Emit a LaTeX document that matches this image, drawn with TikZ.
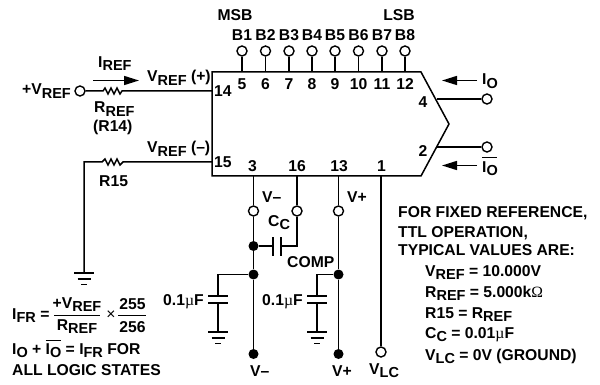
\documentclass[tikz,border=0pt]{standalone}
\usepackage{fontspec}
\setmainfont{Liberation Sans}[BoldFont={Liberation Sans Bold}]
\usetikzlibrary{arrows.meta}
\newcommand{\lbl}[2]{#1\raisebox{-3.5pt}{\fontsize{14.5}{14.5}\selectfont #2}}
\newcommand{\ovl}[1]{\rlap{\rule[13.5pt]{#1}{1pt}}}
\tikzset{
  wire/.style={line width=1.5pt,line join=miter},
  open/.style={circle,draw,line width=1.4pt,fill=white,minimum size=10pt,inner sep=0pt},
  dot/.style={circle,fill=black,minimum size=10pt,inner sep=0pt},
  txt/.style={inner sep=0pt,font=\bfseries\fontsize{15.7}{17}\selectfont,text=black},
  arr/.style={line width=1.5pt,-{Triangle[length=15pt,width=9pt]}},
  plate/.style={line width=1.5pt}
}
\begin{document}
\begin{tikzpicture}[x=1pt,y=-1pt]
\useasboundingbox (0,0) rectangle (600,385);
% IC body
\draw[wire] (212,72) -- (421,72) -- (449,124) -- (421,176) -- (212,176) -- cycle;
\coordinate (body14) at (212,91);
\coordinate (body15) at (212,162);
\coordinate (body4) at (437,99);
\coordinate (body2) at (437,147);
% data pins
\foreach \n/\x/\pin/\b in {a/242/5/B1,b/265.5/6/B2,c/289/7/B3,d/312/8/B4,e/335/9/B5,f/358.5/10/B6,g/382/11/B7,h/405/12/B8}{
  \coordinate (t\n) at (\x,72);
  \node[open] (o\n) at (\x,51) {};
  \draw[wire] (o\n) -- (t\n);
  \node[txt] at (\x,35) {\b};
  \node[txt] at (\x,84) {\pin};
}
\node[txt] at (235,15) {MSB};
\node[txt] at (399,15) {LSB};
% reference in
\node[open] (vr) at (80,91) {};
\draw[wire] (vr) -- (100,91) -- (103,91) -- (105,88) -- (108,94) -- (111,88) -- (114,94) -- (117,88) -- (120,94) -- (122,91) -- (body14);
\draw[wire] (body15) -- (123,162) -- (120,165) -- (117,159) -- (114,165) -- (111,159) -- (108,165) -- (105,159) -- (102,162) -- (84,162) -- (84,273);
\coordinate (gnd1) at (84,273);
\draw[wire] (74,273) -- (94,273) (77.5,279) -- (90.5,279) (81,284.5) -- (87,284.5);
\coordinate (a1s) at (93,80.5); \coordinate (a1e) at (139,80.5);
\draw[arr] (a1s) -- (a1e);
\node[txt,anchor=base west] at (98,67.5) {\lbl{I}{REF}};
\node[txt,anchor=base west] at (147,82) {\lbl{V}{REF} (+)};
\node[txt,anchor=base west] at (22,95) {+\lbl{V}{REF}};
\node[txt,anchor=base west] at (94,113) {\lbl{R}{REF}};
\node[txt,anchor=base west] at (93,132) {(R14)};
\node[txt,anchor=base west] at (147,153) {\lbl{V}{REF} (–)};
\node[txt,anchor=base west] at (99,186) {R15};
\node[txt,anchor=west] at (214,91) {14};
\node[txt,anchor=west] at (214,162) {15};
\node[txt] at (252.5,166) {3};
\node[txt] at (297,166) {16};
\node[txt] at (339,166) {13};
\node[txt] at (381.5,166) {1};
\node[txt] at (423,102) {4};
\node[txt] at (423,151) {2};
% outputs
\node[open] (o4) at (487,99) {};
\node[open] (o2) at (487,147) {};
\draw[wire] (body4) -- (o4);
\draw[wire] (body2) -- (o2);
\coordinate (a2s) at (477,80.5); \coordinate (a2e) at (442,80.5);
\coordinate (a3s) at (477,165.5); \coordinate (a3e) at (442,165.5);
\draw[arr] (a2s) -- (a2e);
\draw[arr] (a3s) -- (a3e);
\node[txt,anchor=base west] at (482,85) {\lbl{I}{O}};
\node[txt,anchor=base west] at (482,172) {\ovl{15pt}\lbl{I}{O}};
% pin 3
\coordinate (p3) at (253.5,176);
\coordinate (p16) at (297,176);
\coordinate (p13) at (338.5,176);
\coordinate (p1) at (381,176);
\node[open] (c3) at (253.5,211) {};
\node[open] (c16) at (297,211) {};
\node[open] (c13) at (338.5,211) {};
\node[dot] (d1) at (253.5,246) {};
\node[dot] (d2) at (253.5,274.5) {};
\node[dot] (d3) at (253.5,354) {};
\node[dot] (d4) at (338.5,274.5) {};
\node[dot] (d5) at (338.5,354) {};
\node[open] (c1) at (381,352) {};
\draw[wire] (p3) -- (c3) -- (d1) -- (d2) -- (d3);
\draw[wire] (p16) -- (c16) -- (297,246) -- (281,246);
\draw[wire] (d1) -- (273,246);
\draw[plate] (273,237) -- (273,256) (281,237) -- (281,256);
\draw[wire] (p13) -- (c13) -- (d4) -- (d5);
\draw[wire] (p1) -- (c1);
\foreach \x/\d in {218/d2,317/d4}{
  \draw[wire] (\d) -- (\x,274.5) -- (\x,296);
  \draw[plate] ({\x-10},296) -- ({\x+10},296) ({\x-10},303) -- ({\x+10},303);
  \draw[wire] (\x,303) -- (\x,332);
  \draw[wire] ({\x-10},332) -- ({\x+10},332) ({\x-6.5},338) -- ({\x+6.5},338) ({\x-3},343.5) -- ({\x+3},343.5);
}
\node[txt,anchor=base west] at (262,202) {V–};
\node[txt,anchor=base west] at (347,202) {V+};
\node[txt,anchor=base west] at (268,226) {\lbl{C}{C}};
\node[txt,anchor=base west] at (287,267) {COMP};
\node[txt,anchor=base west] at (163,305) {0.1{\fontspec{Liberation Serif}\mdseries µ}F};
\node[txt,anchor=base west] at (262,305) {0.1{\fontspec{Liberation Serif}\mdseries µ}F};
\node[txt,anchor=base west] at (250,376) {V–};
\node[txt,anchor=base west] at (332,376) {V+};
\node[txt,anchor=base west] at (369,374) {\lbl{V}{LC}};
% formula
\node[txt,anchor=base west] at (12,319) {\lbl{I}{FR} =};
\node[txt,anchor=base] at (77,308) {+\lbl{V}{REF}};
\node[txt,anchor=base] at (77,330) {\lbl{R}{REF}};
\coordinate (f1) at (54,315); \coordinate (f2) at (100,315);
\draw[line width=1pt] (f1) -- (f2);
\node[txt] at (111,315) {\mdseries ×};
\node[txt,anchor=base] at (132.5,309) {255};
\node[txt,anchor=base] at (132.5,332) {256};
\coordinate (f3) at (118,315); \coordinate (f4) at (146,315);
\draw[line width=1pt] (f3) -- (f4);
\node[txt,anchor=base west] at (12,354) {\lbl{I}{O} + \ovl{15pt}\lbl{I}{O} = \lbl{I}{FR} FOR};
\node[txt,anchor=base west] at (12,375) {ALL LOGIC STATES};
% notes
\node[txt,anchor=base west] at (398,218) {FOR FIXED REFERENCE,};
\node[txt,anchor=base west] at (398,237) {TTL OPERATION,};
\node[txt,anchor=base west] at (398,255) {TYPICAL VALUES ARE:};
\node[txt,anchor=base west] at (425,276) {\lbl{V}{REF} = 10.000V};
\node[txt,anchor=base west] at (425,297) {\lbl{R}{REF} = 5.000k{\fontspec{Liberation Serif}\mdseries Ω}};
\node[txt,anchor=base west] at (425,318) {R15 = \lbl{R}{REF}};
\node[txt,anchor=base west] at (425,338) {\lbl{C}{C} = 0.01{\fontspec{Liberation Serif}\mdseries µ}F};
\node[txt,anchor=base west] at (425,360) {\lbl{V}{LC} = 0V (GROUND)};
\end{tikzpicture}
\end{document}
